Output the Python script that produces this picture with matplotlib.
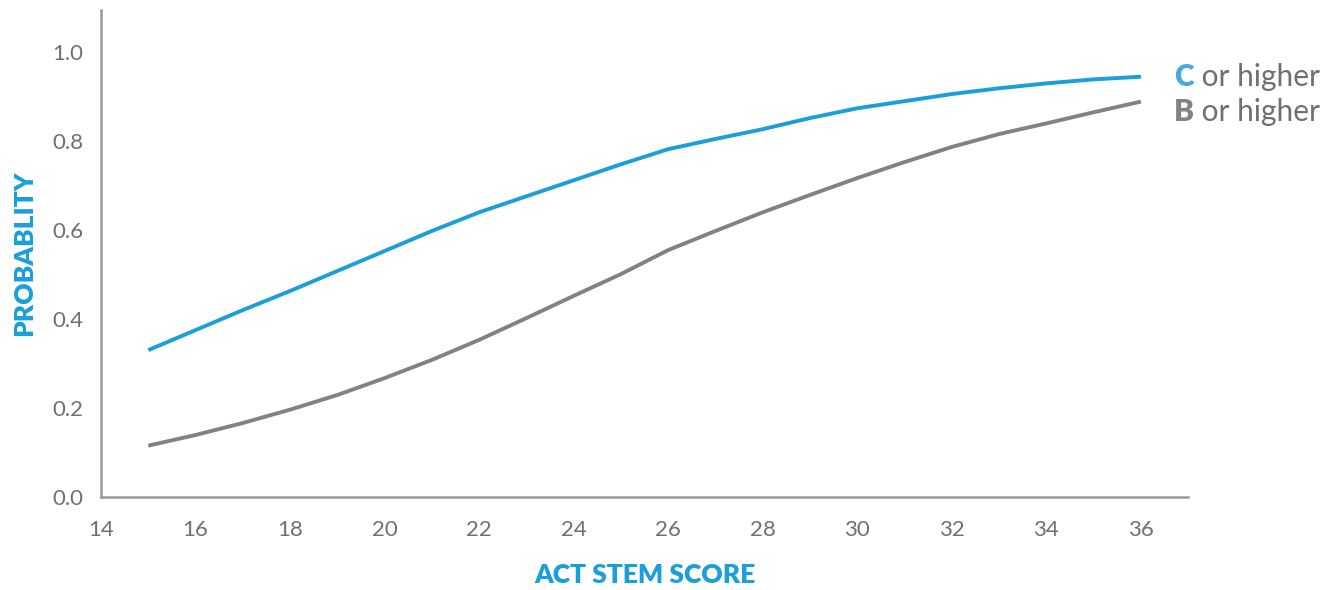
import matplotlib
matplotlib.use("Agg")
import matplotlib.pyplot as plt

# ACT STEM score vs probability of earning a grade
scores = list(range(15, 37))
c_or_higher = [0.330, 0.375, 0.420, 0.463, 0.508, 0.553, 0.598, 0.640, 0.676, 0.712,
               0.748, 0.782, 0.805, 0.827, 0.852, 0.874, 0.890, 0.906, 0.919, 0.930,
               0.939, 0.945]
b_or_higher = [0.115, 0.139, 0.166, 0.196, 0.229, 0.267, 0.308, 0.353, 0.402, 0.452,
               0.501, 0.555, 0.598, 0.640, 0.679, 0.717, 0.753, 0.787, 0.816, 0.840,
               0.865, 0.889]
x_ticks = list(range(14, 37, 2))
y_ticks = [0.0, 0.2, 0.4, 0.6, 0.8, 1.0]

BLUE = "#1a9fda"
GRAY = "#828282"
TEXT = "#707070"

plt.rcParams["font.family"] = ["Lato", "DejaVu Sans"]

fig = plt.figure(figsize=(13.35, 5.9), dpi=100)
ax = fig.add_axes([0.0757, 0.158, 0.8143, 0.825])

ax.plot(scores, c_or_higher, color=BLUE, lw=2.8, solid_capstyle="butt")
ax.plot(scores, b_or_higher, color=GRAY, lw=2.8, solid_capstyle="butt")

ax.set_xlim(14, 37)
ax.set_ylim(0, 1.095)
ax.set_xticks(x_ticks)
ax.set_yticks(y_ticks)
ax.set_yticklabels([f"{v:.1f}" for v in y_ticks])
ax.tick_params(length=0, labelsize=16, labelcolor=TEXT)
ax.tick_params(axis="x", pad=17)
ax.tick_params(axis="y", pad=13)

for side in ["top", "right"]:
    ax.spines[side].set_visible(False)
for side in ["left", "bottom"]:
    ax.spines[side].set_color("#9a9a9a")
    ax.spines[side].set_linewidth(1.8)

ax.set_xlabel("ACT STEM SCORE", color=BLUE, fontsize=19, fontweight="heavy", labelpad=16)
ax.set_ylabel("PROBABLITY", color=BLUE, fontsize=19, fontweight="heavy", labelpad=11)

# legend as text labels
c_lab = fig.text(1174 / 1335, 0.870, "C", color="#4aa8e0", fontsize=21.5, fontweight="heavy", va="center")
ax.annotate(" or higher", xy=(1, 0.5), xycoords=c_lab, va="center", fontsize=21.5,
            color=TEXT)
b_lab = fig.text(1174 / 1335, 0.811, "B", color=GRAY, fontsize=21.5, fontweight="heavy", va="center")
ax.annotate(" or higher", xy=(1, 0.5), xycoords=b_lab, va="center", fontsize=21.5,
            color=TEXT)

fig.savefig("out.png", dpi=100)
